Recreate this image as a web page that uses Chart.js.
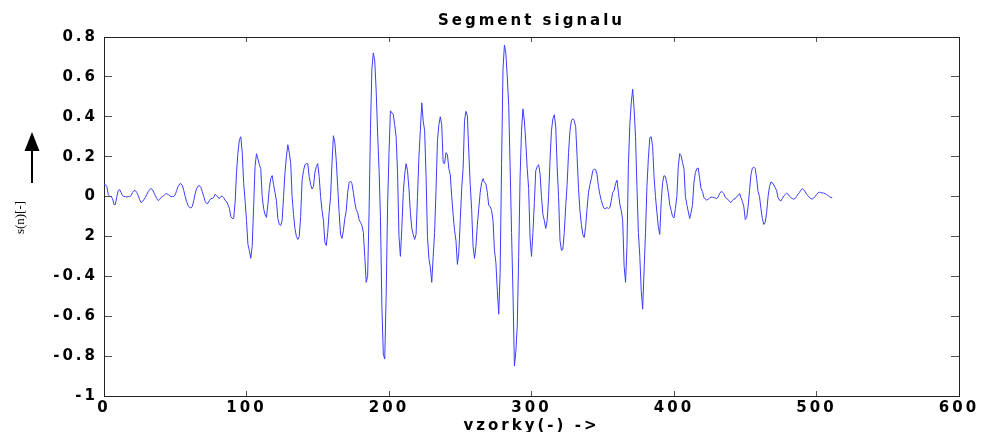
<!DOCTYPE html>
<html>
<head>
<meta charset="utf-8">
<title>Segment signalu</title>
<script src="https://cdn.jsdelivr.net/npm/chart.js@4.4.1/dist/chart.umd.min.js"></script>
<style>
    html, body { margin: 0; padding: 0; background: #fff; }
    canvas { display: block; }
</style>
</head>
<body>
<canvas id="signal-chart" width="981" height="432"></canvas>
<script>
// one value per sample, n = 0 .. 511
let signal = [
    0.06, 0.06, 0.05, 0.01, 0.0, 0.0, -0.01, -0.04, -0.04, 0.0,
    0.03, 0.035, 0.02, 0.005, 0.0, 0.0, -0.002, 0.0, 0.0, 0.005,
    0.02, 0.03, 0.03, 0.02, 0.005, -0.015, -0.03, -0.025, -0.015, -0.005,
    0.01, 0.025, 0.035, 0.04, 0.035, 0.02, 0.005, -0.01, -0.02, -0.015,
    -0.005, 0.0, 0.005, 0.012, 0.015, 0.01, 0.005, 0.0, 0.0, 0.0,
    0.01, 0.03, 0.05, 0.062, 0.065, 0.055, 0.03, 0.0, -0.025, -0.045,
    -0.055, -0.057, -0.05, -0.02, 0.015, 0.04, 0.052, 0.055, 0.045, 0.025,
    0.0, -0.025, -0.035, -0.033, -0.02, -0.01, -0.01, -0.005, 0.012, 0.005,
    -0.005, -0.01, 0.0, 0.002, -0.005, -0.02, -0.025, -0.04, -0.06, -0.1,
    -0.11, -0.11, -0.03, 0.12, 0.22, 0.285, 0.30, 0.22, 0.07, -0.02,
    -0.12, -0.24, -0.27, -0.31, -0.25, -0.05, 0.15, 0.215, 0.19, 0.16,
    0.14, 0.0, -0.06, -0.09, -0.105, -0.04, 0.04, 0.09, 0.105, 0.06,
    0.02, -0.02, -0.11, -0.14, -0.145, -0.12, 0.0, 0.12, 0.2, 0.26,
    0.22, 0.17, 0.0, -0.09, -0.16, -0.2, -0.215, -0.2, -0.1, 0.08,
    0.13, 0.16, 0.165, 0.165, 0.1, 0.06, 0.038, 0.05, 0.12, 0.15,
    0.165, 0.1, 0.0, -0.07, -0.12, -0.23, -0.245, -0.18, -0.08, 0.0,
    0.17, 0.305, 0.27, 0.18, 0.05, -0.08, -0.19, -0.21, -0.17, -0.11,
    -0.07, 0.02, 0.07, 0.078, 0.065, 0.02, -0.03, -0.065, -0.08, -0.115,
    -0.13, -0.145, -0.18, -0.3, -0.43, -0.4, -0.08, 0.34, 0.64, 0.72,
    0.68, 0.53, 0.32, 0.14, -0.1, -0.55, -0.79, -0.815, -0.5, -0.05,
    0.22, 0.43, 0.42, 0.41, 0.36, 0.3, 0.12, -0.2, -0.3, -0.16,
    0.02, 0.11, 0.165, 0.13, 0.04, -0.08, -0.16, -0.19, -0.215, -0.19,
    0.0, 0.2, 0.33, 0.47, 0.38, 0.33, 0.1, -0.2, -0.31, -0.355,
    -0.43, -0.3, -0.18, 0.03, 0.28, 0.36, 0.4, 0.36, 0.17, 0.165,
    0.22, 0.21, 0.14, 0.11, 0.0, -0.09, -0.17, -0.22, -0.34, -0.28,
    -0.12, 0.04, 0.14, 0.38, 0.427, 0.405, 0.22, 0.06, -0.065, -0.25,
    -0.31, -0.25, -0.14, -0.06, 0.02, 0.07, 0.09, 0.07, 0.065, 0.02,
    -0.045, -0.05, -0.07, -0.12, -0.27, -0.33, -0.47, -0.59, -0.38, 0.16,
    0.64, 0.76, 0.72, 0.6, 0.46, 0.15, -0.18, -0.48, -0.85, -0.78,
    -0.65, -0.3, 0.1, 0.33, 0.44, 0.38, 0.27, 0.14, 0.04, -0.21,
    -0.3, -0.18, -0.03, 0.13, 0.15, 0.16, 0.115, 0.0, -0.09, -0.12,
    -0.16, -0.12, 0.0, 0.18, 0.33, 0.39, 0.41, 0.35, 0.15, 0.0,
    -0.22, -0.27, -0.265, -0.18, -0.05, 0.06, 0.22, 0.33, 0.38, 0.39,
    0.38, 0.35, 0.2, 0.04, -0.07, -0.14, -0.19, -0.205, -0.15, -0.06,
    0.02, 0.06, 0.09, 0.13, 0.138, 0.135, 0.11, 0.05, 0.01, -0.02,
    -0.045, -0.06, -0.06, -0.055, -0.06, -0.055, -0.02, 0.02, 0.03, 0.065,
    0.082, 0.02, -0.04, -0.07, -0.12, -0.35, -0.43, -0.25, 0.16, 0.36,
    0.47, 0.538, 0.44, 0.3, 0.05, -0.18, -0.3, -0.47, -0.565, -0.37,
    -0.18, 0.05, 0.19, 0.295, 0.3, 0.25, 0.1, 0.0, -0.08, -0.15,
    -0.19, -0.03, 0.07, 0.105, 0.1, 0.065, 0.02, -0.04, -0.07, -0.1,
    -0.107, -0.06, 0.0, 0.15, 0.215, 0.205, 0.17, 0.14, 0.0, -0.04,
    -0.075, -0.11, -0.08, -0.04, 0.07, 0.12, 0.14, 0.143, 0.09, 0.04,
    0.025, -0.005, -0.013, -0.018, -0.013, -0.008, -0.003, -0.003, -0.005, -0.008,
    -0.01, -0.002, 0.015, 0.025, 0.022, 0.015, -0.005, -0.01, -0.015, -0.025,
    -0.03, -0.02, -0.013, -0.01, 0.0, 0.005, 0.015, -0.005, -0.025, -0.05,
    -0.115, -0.105, -0.05, 0.03, 0.11, 0.143, 0.148, 0.14, 0.09, 0.025,
    0.0, -0.06, -0.11, -0.14, -0.13, -0.08, 0.0, 0.05, 0.073, 0.07,
    0.058, 0.045, 0.03, -0.005, -0.018, -0.022, -0.01, 0.003, 0.01, 0.017,
    0.012, 0.002, -0.005, -0.01, -0.013, -0.01, 0.0, 0.012, 0.02, 0.032,
    0.04, 0.035, 0.025, 0.012, 0.005, -0.005, -0.01, -0.013, -0.008, 0.0,
    0.01, 0.018, 0.022, 0.02, 0.018, 0.018, 0.015, 0.01, 0.005, 0.0,
    -0.005, -0.005
]

// sample numbers for the x axis
let sampleIndex = signal.map((v, i) => i)

let xTickLabels = ['0', '100', '200', '300', '400', '500', '600']
let yTickLabels = ['-1', '-0.8', '-0.6', '-0.4', '2', '0', '0.2', '0.4', '0.6', '0.8']

let textFont = 'DejaVu Sans'
let spacing = '3px'
let frameColor = '#222'
let tickColor = '#555'

// wide letter spacing for the axis text, y label and arrow on the left
let textPlugin = {
    id: 'leftText',
    beforeLayout(chart) {
        chart.ctx.letterSpacing = spacing
    },
    beforeDraw(chart) {
        chart.ctx.letterSpacing = spacing
    },
    afterDraw(chart) {
        let ctx = chart.ctx
        let area = chart.chartArea
        ctx.save()
        ctx.letterSpacing = '0px'
        ctx.fillStyle = '#000'
        ctx.font = '13px "Liberation Serif"'
        ctx.textAlign = 'center'
        ctx.textBaseline = 'middle'
        ctx.translate(21, (area.top + area.bottom) / 2 + 1)
        ctx.rotate(-Math.PI / 2)
        ctx.fillText('s(n)[-]', 0, 0)
        ctx.setTransform(1, 0, 0, 1, 0, 0)

        ctx.fillRect(31, 148, 2, 35)
        ctx.beginPath()
        ctx.moveTo(24.5, 151)
        ctx.lineTo(39.5, 151)
        ctx.lineTo(32, 132)
        ctx.closePath()
        ctx.fill()
        ctx.restore()
    }
}

// frame side: border line plus short ticks turned inward
function frameGrid(len) {
    return {
        display: true,
        drawOnChartArea: false,
        drawTicks: true,
        tickLength: -len,
        color: tickColor,
        lineWidth: 1
    }
}

let ctx = document.getElementById('signal-chart').getContext('2d')
let signalChart = new Chart(ctx, {
    type: 'line',
    data: {
        datasets: [{
            data: signal.map((v, i) => ({x: sampleIndex[i], y: v})),
            borderColor: 'rgb(60, 60, 255)',
            borderWidth: 1,
            pointRadius: 0,
            tension: 0,
            fill: false
        }]
    },
    options: {
        responsive: false,
        animation: false,
        layout: {padding: {left: 0, right: 22, top: 0, bottom: 0}},
        plugins: {
            legend: {display: false},
            tooltip: {enabled: false},
            title: {
                display: true,
                text: 'Segment signalu',
                fullSize: false,
                color: '#000',
                font: {family: textFont, size: 15, weight: 'bold'},
                padding: {top: 12.5, bottom: 6.5}
            }
        },
        scales: {
            x: {
                type: 'linear',
                position: 'bottom',
                min: 0,
                max: 600,
                grid: frameGrid(5),
                border: {display: true, color: frameColor, width: 1},
                ticks: {
                    stepSize: 100,
                    autoSkip: false,
                    maxRotation: 0,
                    padding: 8,
                    color: '#000',
                    font: {family: textFont, size: 15, weight: 'bold'},
                    callback: (value, index) => xTickLabels[index]
                },
                title: {
                    display: true,
                    text: 'vzorky(-) ->',
                    color: '#000',
                    font: {family: textFont, size: 15, weight: 'bold', lineHeight: 0.8},
                    padding: 0
                },
                afterFit: scale => {
                    scale.height = 36
                    scale.paddingRight = 0
                }
            },
            xTop: {
                type: 'linear',
                position: 'top',
                min: 0,
                max: 600,
                grid: frameGrid(5),
                border: {display: true, color: frameColor, width: 1},
                ticks: {stepSize: 100, autoSkip: false, display: false},
                afterFit: scale => { scale.height = 0 }
            },
            y: {
                position: 'left',
                min: -1,
                max: 0.8,
                grid: frameGrid(8),
                border: {display: true, color: frameColor, width: 1},
                ticks: {
                    stepSize: 0.2,
                    autoSkip: false,
                    padding: 14,
                    color: '#000',
                    font: {family: textFont, size: 15, weight: 'bold'},
                    callback: (value, index) => yTickLabels[index]
                },
                afterFit: scale => { scale.width = 104 }
            },
            yRight: {
                position: 'right',
                min: -1,
                max: 0.8,
                grid: frameGrid(8),
                border: {display: true, color: frameColor, width: 1},
                ticks: {stepSize: 0.2, autoSkip: false, display: false},
                afterFit: scale => { scale.width = 0 }
            }
        }
    },
    plugins: [textPlugin]
})
</script>
</body>
</html>
